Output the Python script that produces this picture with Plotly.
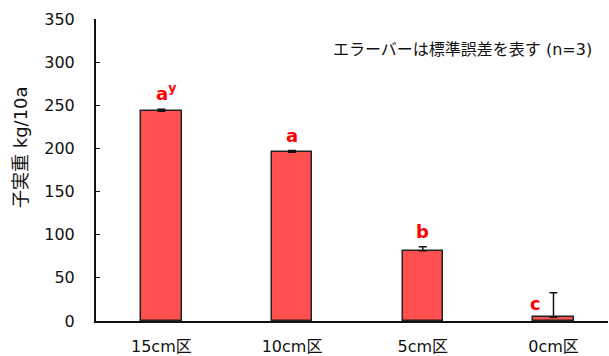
import plotly.graph_objects as go

# Seed yield by sowing depth
categories = ["15cm区", "10cm区", "5cm区", "0cm区"]
yield_kg = [243, 195.5, 81.5, 4.3]
std_err = [2.5, 2.0, 4.5, 28.5]
sig_letters = ["a<sup>y</sup>", "a", "b", "c"]

# plot-area pixel bounds
PL, PR, PT, PB = 96, 608, 19, 321

fig = go.Figure()
fig.add_trace(go.Bar(
    x=list(range(len(categories))),
    y=yield_kg,
    width=0.31,
    marker=dict(color="#FF5050", line=dict(color="#222222", width=1.5)),
    error_y=dict(type="data", array=std_err, arrayminus=[0] * len(std_err),
                 symmetric=False, color="#111111", thickness=1.5, width=4),
    showlegend=False,
))

font_fam = "DejaVu Sans, Noto Sans CJK JP"

for i, (lbl, v, e) in enumerate(zip(sig_letters, yield_kg, std_err)):
    if i == 3:
        fig.add_annotation(x=i, y=v, xref="x", yref="y", text=lbl, showarrow=False,
                           xanchor="center", yanchor="bottom", xshift=-18, yshift=1,
                           font=dict(family=font_fam, size=18, color="#FF0000", weight="bold"))
    else:
        fig.add_annotation(x=i, y=v + e, xref="x", yref="y", text=lbl, showarrow=False,
                           xanchor="center", yanchor="bottom", yshift=3,
                           xshift=5 if i == 0 else 0,
                           font=dict(family=font_fam, size=18, color="#FF0000", weight="bold"))


def px_to_paper(px, py):
    return (px - PL) / (PR - PL), (PB - py) / (PB - PT)


nx, ny = px_to_paper(594, 50)
fig.add_annotation(x=nx, y=ny, xref="paper", yref="paper", text="エラーバーは標準誤差を表す (n=3)",
                   showarrow=False, xanchor="right", yanchor="middle",
                   font=dict(family=font_fam, size=16, color="#111111"))

tx, ty = px_to_paper(20, 147)
fig.add_annotation(x=tx, y=ty, xref="paper", yref="paper", text="子実重 kg/10a",
                   showarrow=False, textangle=-90, xanchor="center", yanchor="middle",
                   font=dict(family=font_fam, size=18, color="#111111"))

fig.update_layout(
    width=609, height=356,
    margin=dict(l=PL, r=609 - PR, t=PT, b=356 - PB, autoexpand=False),
    plot_bgcolor="white", paper_bgcolor="white",
    font=dict(family=font_fam, size=16, color="#111111"),
    bargap=0,
)
fig.update_xaxes(
    range=[-0.5, 3.417], tickvals=list(range(len(categories))), ticktext=categories,
    showline=True, linecolor="#111111", linewidth=2, ticks="", showgrid=False,
    zeroline=False, ticklabelstandoff=10, tickfont=dict(size=16), automargin=False,
)
fig.update_yaxes(
    range=[0, 350], tickvals=[0, 50, 100, 150, 200, 250, 300, 350],
    showline=True, linecolor="#111111", linewidth=2, ticks="inside", ticklen=4,
    tickcolor="#111111", showgrid=False, zeroline=False, ticklabelstandoff=16,
    tickfont=dict(size=16), automargin=False,
)

fig.write_html("out.html")
